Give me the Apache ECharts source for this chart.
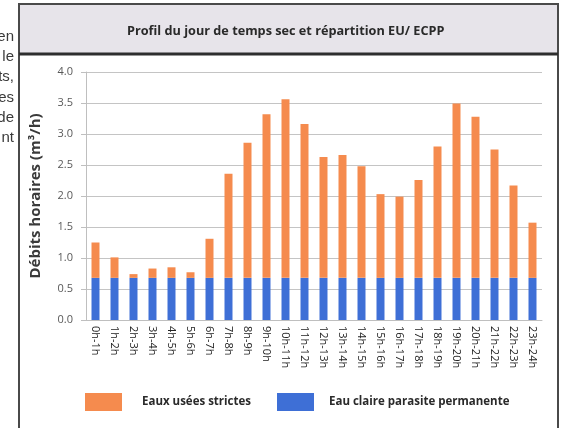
<!DOCTYPE html>
<html><head><meta charset="utf-8">
<script src="https://cdn.jsdelivr.net/npm/echarts@6/dist/echarts.min.js"></script>
<style>html,body{margin:0;padding:0;background:#fff}#c{width:561px;height:428px}</style>
</head><body><div id="c"></div>
<script>
const categories = ['0h-1h','1h-2h','2h-3h','3h-4h','4h-5h','5h-6h','6h-7h','7h-8h','8h-9h','9h-10h','10h-11h','11h-12h','12h-13h','13h-14h','14h-15h','15h-16h','16h-17h','17h-18h','18h-19h','19h-20h','20h-21h','21h-22h','22h-23h','23h-24h'];
const ecpp = [0.68,0.68,0.68,0.68,0.68,0.68,0.68,0.68,0.68,0.68,0.68,0.68,0.68,0.68,0.68,0.68,0.68,0.68,0.68,0.68,0.68,0.68,0.68,0.68];
const euStrictes = [0.57,0.33,0.06,0.15,0.17,0.09,0.63,1.68,2.18,2.64,2.88,2.48,1.95,1.98,1.80,1.35,1.31,1.58,2.12,2.81,2.60,2.07,1.49,0.89];
const yTicks = [0,0.5,1,1.5,2,2.5,3,3.5,4];
const sideText = ['en','le','ts,','es','de','nt'];

const chart = echarts.init(document.getElementById('c'), null, {renderer:'canvas'});
const FONT = '"Open Sans", Lato, sans-serif';
const graphics = [
  {type:'rect', shape:{x:19,y:4,width:539,height:440}, style:{fill:'#fff', stroke:'#4a4a4a', lineWidth:2}, z:-10},
  {type:'rect', shape:{x:20,y:5,width:537,height:48}, style:{fill:'#e7e4ea'}, z:-9},
  {type:'line', shape:{x1:19,y1:54,x2:558,y2:54}, style:{stroke:'#2e2e2e', lineWidth:3}, z:-8},
  {type:'text', left:127, top:25, style:{text:'Profil du jour de temps sec et répartition EU/ ECPP', fill:'#2a2a2a', font:'bold 12.7px '+FONT}}
];
sideText.forEach((t,i)=>{
  graphics.push({type:'text', right:561-14, top:29+i*20.3, style:{text:t, fill:'#3a3a3a', font:'15px "Liberation Sans", Arial, sans-serif', textAlign:'right'}});
});

chart.setOption({
  animation:false,
  backgroundColor:'#fff',
  graphic: graphics,
  grid:{left:86, right:19, top:72, bottom:108, containLabel:false},
  legend:[
    {left:85, top:393, padding:0, itemWidth:37, itemHeight:18, icon:'rect', data:['Eaux usées strictes'], textStyle:{fontFamily:FONT, fontWeight:'bold', fontSize:11.5, color:'#2a2a2a', padding:[0,0,0,15]}},
    {left:277, top:393, padding:0, itemWidth:37, itemHeight:18, icon:'rect', data:['Eau claire parasite permanente'], textStyle:{fontFamily:FONT, fontWeight:'bold', fontSize:11.5, color:'#2a2a2a', padding:[0,0,0,10]}}
  ],
  xAxis:{
    type:'category', data:categories,
    axisLine:{lineStyle:{color:'#bfbfbf', width:1}},
    axisTick:{show:false},
    axisLabel:{rotate:-90, interval:0, margin:6, fontFamily:FONT, fontSize:11, color:'#222'}
  },
  yAxis:{
    type:'value', min:0, max:4, interval:0.5,
    name:'Débits horaires (m³/h)', nameLocation:'middle', nameGap:43,
    nameTextStyle:{fontFamily:FONT, fontWeight:'bold', fontSize:15, color:'#3a3a3a'},
    axisLine:{show:true, lineStyle:{color:'#bfbfbf'}},
    axisTick:{show:true, length:5, lineStyle:{color:'#bfbfbf'}},
    axisLabel:{margin:13, fontFamily:FONT, fontSize:11, color:'#595959', formatter:v=>v.toFixed(1)},
    splitLine:{lineStyle:{color:'#c4c4c4', width:1}}
  },
  series:[
    {name:'Eau claire parasite permanente', type:'bar', stack:'t', data:ecpp, barWidth:8, itemStyle:{color:'#3e6fd6'}},
    {name:'Eaux usées strictes', type:'bar', stack:'t', data:euStrictes, barWidth:8, itemStyle:{color:'#f58b4e'}}
  ]
});
</script></body></html>
